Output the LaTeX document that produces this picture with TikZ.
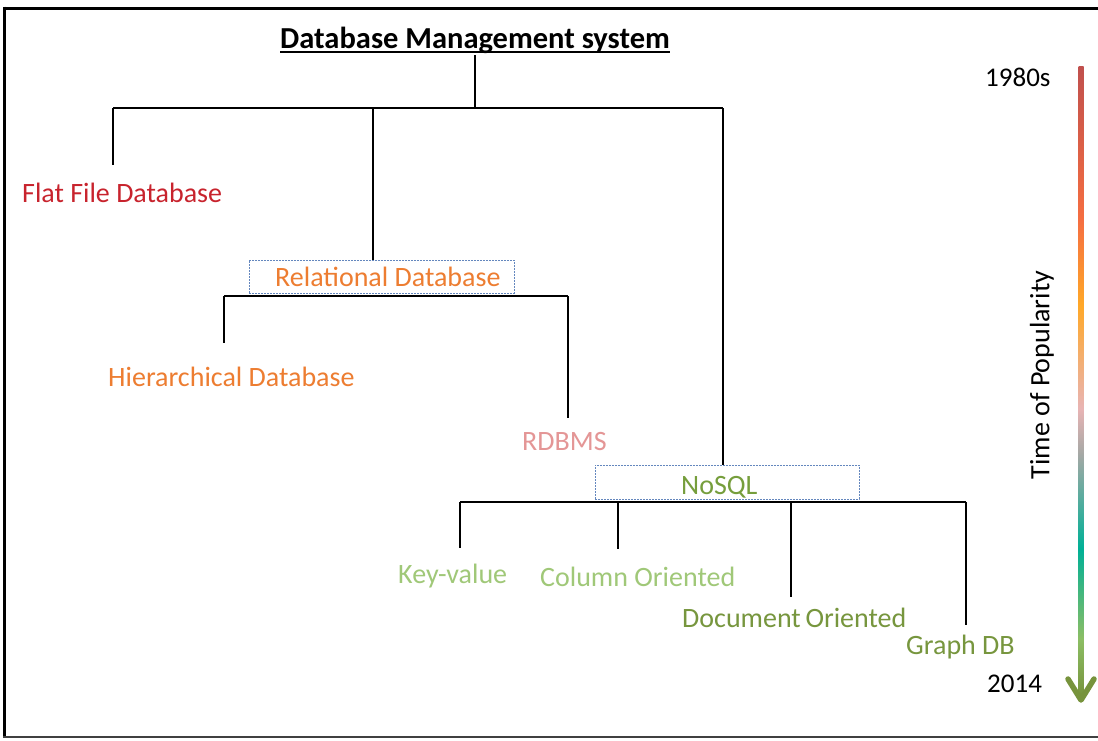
\documentclass[tikz,border=0pt]{standalone}
\usepackage{fontspec}
\setmainfont{Carlito}
\usetikzlibrary{calc}

\definecolor{ffred}{RGB}{200,35,45}
\definecolor{relorange}{RGB}{237,125,49}
\definecolor{rdbmspink}{RGB}{228,150,150}
\definecolor{nosqlgreen}{RGB}{118,158,60}
\definecolor{leafgreen}{RGB}{160,200,120}
\definecolor{darkleaf}{RGB}{119,150,62}
\definecolor{boxblue}{RGB}{100,135,190}

% colour scale of the time axis, bottom (2014) to top (1980s)
\definecolor{sOlive}{RGB}{119,147,60}
\definecolor{sLight}{RGB}{140,190,100}
\definecolor{sTeal}{RGB}{0,176,150}
\definecolor{sGray}{RGB}{165,168,165}
\definecolor{sPink}{RGB}{232,180,180}
\definecolor{sOrange}{RGB}{255,168,40}
\definecolor{sTomato}{RGB}{245,110,65}
\definecolor{sRed}{RGB}{192,80,77}
\pgfdeclareverticalshading{popularity}{100bp}{%
  color(0bp)=(sOlive); color(25bp)=(sOlive); color(29.5bp)=(sLight);
  color(36.7bp)=(sTeal); color(44.2bp)=(sGray); color(47.8bp)=(sPink);
  color(56bp)=(sOrange); color(62.8bp)=(sTomato); color(75bp)=(sRed);
  color(100bp)=(sRed)}

\tikzset{
  lbl/.style={anchor=base west, inner sep=0pt, font=\fontsize{28}{33}\selectfont},
  yearlbl/.style={anchor=base west, inner sep=0pt, font=\fontsize{27}{32}\selectfont},
  branch/.style={draw=black, line width=1.6pt},
  groupbox/.style={draw=boxblue, dash pattern=on 1.8pt off 1.2pt, line width=1pt},
}

\begin{document}
\begin{tikzpicture}[x=1pt, y=-1pt]
\useasboundingbox (0,0) rectangle (1098,740);
\fill[white] (0,0) rectangle (1098,740);

% outer frame
\draw[line width=3pt] (4.5,8) -- (1098,8);
\draw[line width=2.5pt] (4.5,6.5) -- (4.5,738);
\draw[line width=1.2pt, black!75] (3,737) -- (1098,737);

% title with its underline
\node[anchor=base west, inner sep=0pt, font=\fontsize{30.5}{36}\selectfont\bfseries] (title) at (280,48)
  {Database Management system};
\draw[line width=1.8pt] (title.base west) ++(0,4) -- ($(title.base east)+(0,4)$);

% labels
\node[lbl, text=ffred] (flat) at (22,202) {Flat File Database};
\node[lbl, text=relorange] (rel) at (275,286) {Relational Database};
\node[lbl, text=relorange] (hier) at (108,386) {Hierarchical Database};
\node[lbl, text=rdbmspink] (rdbms) at (522,450) {RDBMS};
\node[lbl, text=nosqlgreen] (nosql) at (681,494) {NoSQL};
\node[lbl, text=leafgreen] (kv) at (398,583) {Key-value};
\node[lbl, text=leafgreen] (col) at (540,586) {Column Oriented};
\node[lbl, text=darkleaf] (doc) at (682,627) {Document\,Oriented};
\node[lbl, text=darkleaf] (graph) at (906,654) {Graph DB};
\node[yearlbl] (y1980) at (985,86) {1980s};
\node[yearlbl] (y2014) at (987,692) {2014};
\node[inner sep=0pt, rotate=90, font=\fontsize{28}{33}\selectfont] (axis) at (1042,375) {Time of Popularity};

% group boxes
\node[groupbox, minimum width=265pt, minimum height=33pt] (relbox) at (381.5,276.5) {};
\node[groupbox, minimum width=264pt, minimum height=34pt] (nosqlbox) at (727,482) {};

% tree connectors
\coordinate (root) at (475,55);
\coordinate (barL) at (113,108);
\coordinate (barR) at (723,108);
\coordinate (flatTop) at (113,165);
\draw[branch] (root) -- (475,108);
\draw[branch] (barL) -- (barR);
\draw[branch] (barL) -- (flatTop);
\draw[branch] (373,108) -- (relbox.north -| 373,0);
\draw[branch] (barR) -- (nosqlbox.north -| barR);

\coordinate (relL) at (224,296);
\coordinate (relR) at (568,296);
\draw[branch] (relL) -- (relR);
\draw[branch] (relL) -- (224,343) coordinate (hierTop);
\draw[branch] (relR) -- (568,418) coordinate (rdbmsTop);

\coordinate (noL) at (460,502);
\coordinate (noR) at (966,502);
\draw[branch] (noL) -- (noR);
\draw[branch] (noL) -- (460,548) coordinate (kvTop);
\draw[branch] (618,502) -- (618,549) coordinate (colTop);
\draw[branch] (791,502) -- (791,597) coordinate (docTop);
\draw[branch] (noR) -- (966,625) coordinate (graphTop);

% time axis
\shade[shading=popularity] (1078.5,66) rectangle (1083.5,696);
\draw[sOlive, line width=5.5pt, line cap=round, line join=round]
  (1068,679) -- (1081,700) -- (1094,679);
\end{tikzpicture}
\end{document}
